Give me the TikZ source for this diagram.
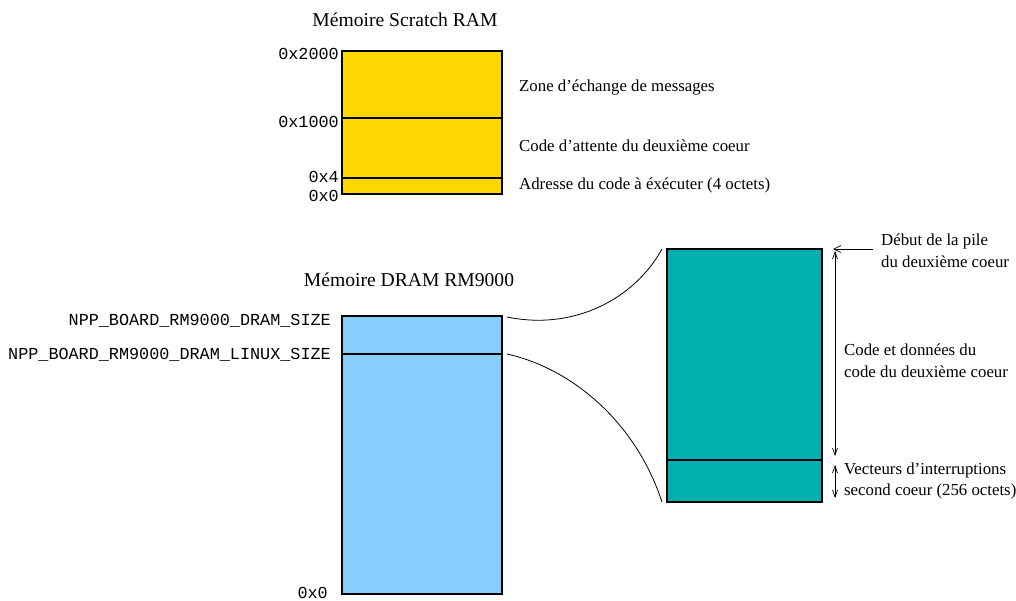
\documentclass[tikz,border=0pt]{standalone}
\usepackage{fontspec}
\setmainfont{Liberation Serif}
\setmonofont{Liberation Mono}
\usetikzlibrary{arrows.meta,calc}
\definecolor{scratchfill}{RGB}{255,215,0}
\definecolor{dramfill}{RGB}{135,206,255}
\definecolor{stackfill}{RGB}{0,176,176}
\begin{document}
\begin{tikzpicture}[x=1pt,y=-1pt,
  mem/.style={draw=black,line width=1.1pt,inner sep=0pt,outer sep=0pt,anchor=north west},
  divider/.style={line width=1.1pt},
  txt/.style={font=\fontsize{16.8}{20}\selectfont,inner sep=0pt,anchor=base west},
  ttl/.style={font=\fontsize{19.6}{23}\selectfont,inner sep=0pt,anchor=base},
  addr/.style={font=\fontsize{16.8}{20}\selectfont\ttfamily,inner sep=0pt,anchor=base east},
  zoomline/.style={line width=0.8pt},
  barb/.style={line width=0.7pt,-{Straight Barb[length=7pt,width=7pt]}},
  dbarb/.style={line width=0.7pt,{Straight Barb[length=7pt,width=5pt]}-{Straight Barb[length=7pt,width=5pt]}}]
\useasboundingbox (0,0) rectangle (1016,601);

% Scratch RAM
\node[ttl] (t1) at (405,27) {Mémoire Scratch RAM};
\node[mem,fill=scratchfill,minimum width=160pt,minimum height=143pt] (scratch) at (342,51) {};
\coordinate (s1) at ($(scratch.north west)+(0,67)$);
\coordinate (s2) at ($(scratch.north west)+(0,127)$);
\draw[divider] (s1) -- (s1 -| scratch.east);
\draw[divider] (s2) -- (s2 -| scratch.east);
\node[addr] (a2000) at (339,60) {0x2000};
\node[addr] (a1000) at (339,128) {0x1000};
\node[addr] (a4) at (339,183) {0x4};
\node[addr] (a0) at (339,202) {0x0};
\node[txt] (z1) at (519,92) {Zone d’échange de messages};
\node[txt] (z2) at (519,152) {Code d’attente du deuxième coeur};
\node[txt] (z3) at (519,190) {Adresse du code à éxécuter (4 octets)};

% DRAM
\node[ttl] (t2) at (409,287) {Mémoire DRAM RM9000};
\node[mem,fill=dramfill,minimum width=160pt,minimum height=278pt] (dram) at (342,316) {};
\coordinate (d1) at ($(dram.north west)+(0,38)$);
\draw[divider] (d1) -- (d1 -| dram.east);
\node[addr] (dsize) at (331,325) {NPP\_BOARD\_RM9000\_DRAM\_SIZE};
\node[addr] (dlinux) at (331,359) {NPP\_BOARD\_RM9000\_DRAM\_LINUX\_SIZE};
\node[addr] (d0) at (328,598) {0x0};

% Second core region
\node[mem,fill=stackfill,minimum width=155pt,minimum height=253pt] (core) at (667,249) {};
\coordinate (c1) at ($(core.south west)+(0,-42)$);
\draw[divider] (c1) -- (c1 -| core.east);

% Zoom curves
\coordinate (u0) at ($(dram.north east)+(5,1)$);
\coordinate (u1) at ($(core.north west)+(-5,0)$);
\coordinate (l0) at ($(d1 -| dram.east)+(5,0)$);
\coordinate (l1) at ($(core.south west)+(-5,0)$);
\draw[zoomline] (u0) .. controls (575,331) and (635,298) .. (u1);
\draw[zoomline] (l0) .. controls (570,368) and (635,420) .. (l1);

% Annotations
\coordinate (ptop) at ($(core.north east)+(11,0)$);
\coordinate (pstart) at ($(core.north east)+(51,0)$);
\draw[barb] (pstart) -- (ptop);
\coordinate (v0) at ($(core.north east)+(13,2)$);
\coordinate (v1) at ($(c1 -| core.east)+(13,-4)$);
\draw[dbarb] (v0) -- (v1);
\coordinate (w0) at ($(c1 -| core.east)+(13,5)$);
\coordinate (w1) at ($(core.south east)+(13,-4)$);
\draw[dbarb] (w0) -- (w1);
\node[txt] (p1) at (881,246) {Début de la pile};
\node[txt] (p2) at (881,268) {du deuxième coeur};
\node[txt] (k1) at (844,355) {Code et données du};
\node[txt] (k2) at (844,377) {code du deuxième coeur};
\node[txt] (i1) at (844,474) {Vecteurs d’interruptions};
\node[txt] (i2) at (844,495) {second coeur (256 octets)};
\end{tikzpicture}
\end{document}
